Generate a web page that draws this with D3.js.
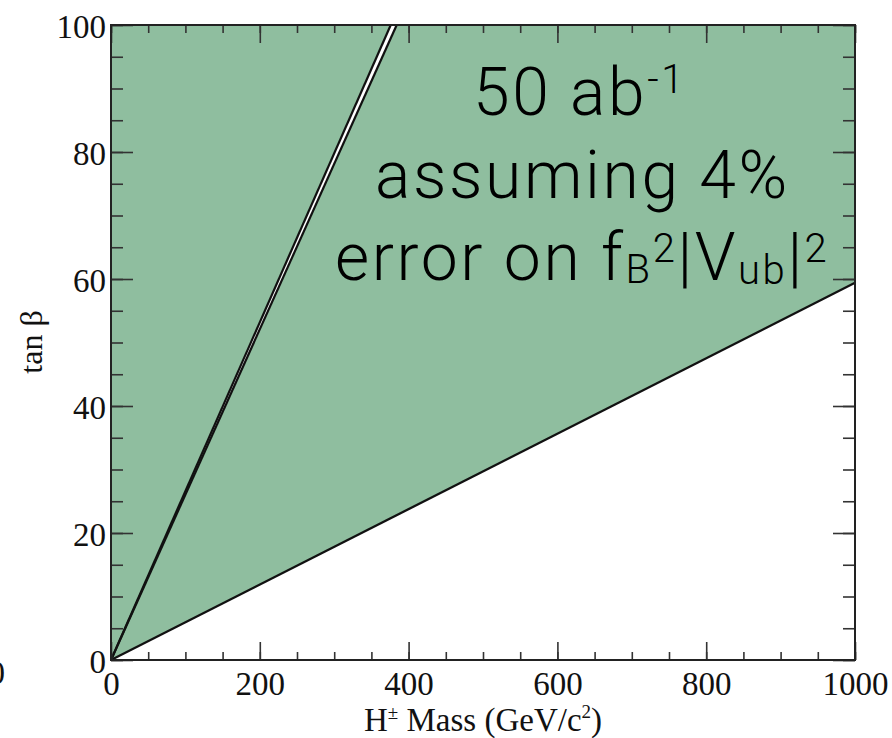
<!DOCTYPE html>
<html>
<head>
<meta charset="utf-8">
<script src="https://cdn.jsdelivr.net/npm/d3@7/dist/d3.min.js"></script>
<style>
  html, body { margin: 0; padding: 0; background: #fff; }
  svg { display: block; }
  .serif { font-family: "Liberation Serif", "Times New Roman", serif; fill: #111; }
  .ann { font-family: Roboto, "Liberation Sans", sans-serif; font-weight: 300; fill: #000; letter-spacing: 2.6px; }
</style>
</head>
<body>
<svg id="chart" width="892" height="738"></svg>
<script>
// ---- data ----
const xDomain = [0, 1000];
const yDomain = [0, 100];
const xMajorTicks = [0, 200, 400, 600, 800, 1000];
const xMinorTicks = d3.range(0, 1001, 50);
const yMajorTicks = [0, 20, 40, 60, 80, 100];
const yMinorTicks = d3.range(0, 101, 5);
// boundary lines (mass, tanβ)
const steepEdgeLeft = [[0, 0], [376, 100]];
const steepEdgeRight = [[0, 0], [384, 100]];
const lowerBoundary = [[0, 0], [1000, 59.4]];
// excluded (shaded) regions
const regionLeft = [[0, 0], [376, 100], [0, 100]];
const regionRight = [[0, 0], [384, 100], [1000, 100], [1000, 59.4]];
const xTitle = "H\u00B1 Mass (GeV/c2)";
const yTitle = "tan \u03B2";

// ---- layout ----
const svg = d3.select("#chart");
const x = d3.scaleLinear(xDomain, [111, 855]);
const y = d3.scaleLinear(yDomain, [660, 25]);
const green = "#8fbe9f";

const poly = d3.line().x(d => x(d[0])).y(d => y(d[1]));

svg.append("path").attr("d", poly(regionLeft) + "Z").attr("fill", green);
svg.append("path").attr("d", poly(regionRight) + "Z").attr("fill", green);

// boundary lines
[steepEdgeLeft, steepEdgeRight].forEach(l => {
  svg.append("path").attr("d", poly(l)).attr("stroke", "#111").attr("stroke-width", 2.2).attr("fill", "none");
});
svg.append("path").attr("d", poly(lowerBoundary)).attr("stroke", "#111").attr("stroke-width", 2.3).attr("fill", "none");

// ---- axes ----
function styleAxis(g) {
  g.select(".domain").remove();
  g.selectAll(".tick line").attr("stroke", "#333").attr("stroke-width", 1.6);
}
// bottom
svg.append("g").attr("transform", "translate(0,660)")
  .call(d3.axisBottom(x).tickValues(xMinorTicks).tickSize(-8).tickFormat(""))
  .call(styleAxis);
const gxb = svg.append("g").attr("transform", "translate(0,660)")
  .call(d3.axisBottom(x).tickValues(xMajorTicks).tickSize(-18).tickPadding(12).tickFormat(d3.format("d")))
  .call(styleAxis);
gxb.selectAll("text").attr("class", "serif").style("font-size", "33px").attr("fill", "#111");
// top
svg.append("g").attr("transform", "translate(0,25)")
  .call(d3.axisTop(x).tickValues(xMinorTicks).tickSize(-8).tickFormat(""))
  .call(styleAxis);
svg.append("g").attr("transform", "translate(0,25)")
  .call(d3.axisTop(x).tickValues(xMajorTicks).tickSize(-18).tickFormat(""))
  .call(styleAxis);
// left
svg.append("g").attr("transform", "translate(111,0)")
  .call(d3.axisLeft(y).tickValues(yMinorTicks).tickSize(-12).tickFormat(""))
  .call(styleAxis);
const gyl = svg.append("g").attr("transform", "translate(111,0)")
  .call(d3.axisLeft(y).tickValues(yMajorTicks).tickSize(-22).tickPadding(5).tickFormat(d3.format("d")))
  .call(styleAxis);
gyl.selectAll("text").attr("class", "serif").style("font-size", "33px").attr("fill", "#111").attr("dy", "0.38em");
// right
svg.append("g").attr("transform", "translate(855,0)")
  .call(d3.axisRight(y).tickValues(yMinorTicks).tickSize(-12).tickFormat(""))
  .call(styleAxis);
svg.append("g").attr("transform", "translate(855,0)")
  .call(d3.axisRight(y).tickValues(yMajorTicks).tickSize(-22).tickFormat(""))
  .call(styleAxis);

// frame
svg.append("rect").attr("x", x(0)).attr("y", y(100))
  .attr("width", x(1000) - x(0)).attr("height", y(0) - y(100))
  .attr("fill", "none").attr("stroke", "#222").attr("stroke-width", 2);

// axis titles
const xt = svg.append("text").attr("class", "serif").attr("x", (x(0) + x(1000)) / 2).attr("y", 731)
  .attr("text-anchor", "middle").style("font-size", "33px");
xt.append("tspan").text("H");
xt.append("tspan").text("\u00B1").style("font-size", "19px").attr("dy", -12);
xt.append("tspan").text(" Mass (GeV/c").attr("dy", 12);
xt.append("tspan").text("2").style("font-size", "19px").attr("dy", -13);
xt.append("tspan").text(")").attr("dy", 13);

svg.append("text").attr("class", "serif")
  .attr("transform", "translate(42,342) rotate(-90)")
  .attr("text-anchor", "middle").style("font-size", "32px").text(yTitle);

// stray clipped label at left edge
svg.append("text").attr("class", "serif").attr("x", 5).attr("y", 684)
  .attr("text-anchor", "end").style("font-size", "33px").text("0");

// ---- annotation ----
const annSize = 66, subSize = 40;
const a1 = svg.append("text").attr("class", "ann").attr("x", 473).attr("y", 115).style("font-size", annSize + "px");
a1.append("tspan").text("50 ab");
a1.append("tspan").text("-1").style("font-size", subSize + "px").attr("dy", -22);

svg.append("text").attr("class", "ann").attr("x", 375).attr("y", 198).style("font-size", annSize + "px")
  .text("assuming 4%");

const a3 = svg.append("text").attr("class", "ann").attr("x", 335).attr("y", 280).style("font-size", annSize + "px");
a3.append("tspan").text("error on f");
a3.append("tspan").text("B").style("font-size", subSize + "px").attr("dy", 3);
a3.append("tspan").text("2").style("font-size", subSize + "px").attr("dy", -21);
a3.append("tspan").text("|V").attr("dy", 18);
a3.append("tspan").text("ub").style("font-size", subSize + "px").attr("dy", 4);
a3.append("tspan").text("|").attr("dy", -4);
a3.append("tspan").text("2").style("font-size", subSize + "px").attr("dy", -18);
</script>
</body>
</html>
